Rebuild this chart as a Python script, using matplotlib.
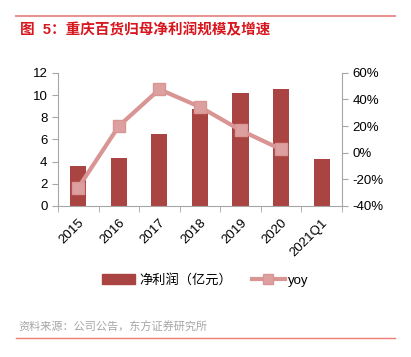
import numpy as np
import matplotlib.pyplot as plt
from matplotlib.lines import Line2D
from matplotlib.patches import Patch
from matplotlib.ticker import FuncFormatter

plt.rcParams['font.family'] = ['Liberation Sans', 'Noto Sans CJK SC']

categories = ['2015', '2016', '2017', '2018', '2019', '2020', '2021Q1']
profit = [3.6, 4.35, 6.45, 8.7, 10.2, 10.5, 4.2]   # 亿元
yoy = [-26.3, 20.0, 47.6, 34.4, 16.9, 2.5]           # %

bar_color = '#A94442'
line_color = '#D99594'
spine_color = '#A6A6A6'

fig = plt.figure(figsize=(4.11, 3.57), dpi=100)
ax = fig.add_axes([0.141, 0.423, 0.691, 0.373])
ax2 = ax.twinx()

x = np.arange(len(categories))
ax.bar(x, profit, width=0.4, color=bar_color, zorder=2)
ax2.plot(x[:len(yoy)], yoy, color=line_color, lw=3, marker='s', ms=9,
         markerfacecolor='#DDA0A0', markeredgecolor=line_color, zorder=3)

ax.set_xlim(-0.5, len(categories) - 0.5)
ax.set_ylim(0, 12)
ax.set_yticks(range(0, 13, 2))
ax2.set_ylim(-40, 60)
ax2.set_yticks(range(-40, 61, 20))
ax2.yaxis.set_major_formatter(FuncFormatter(lambda v, p: '%d%%' % v))

ax.set_xticks(x)
ax.set_xticklabels(categories, rotation=45, ha='right', rotation_mode='anchor', fontsize=9.5)
ax.set_xticks(np.arange(-0.5, len(categories)), minor=True)
ax.tick_params(axis='x', which='major', length=0, pad=8)
ax.tick_params(axis='x', which='minor', length=4, color=spine_color, direction='out')
ax.tick_params(axis='y', labelsize=9.5, length=4, color=spine_color)
ax2.tick_params(axis='y', labelsize=9.5, length=4, color=spine_color)

for a in (ax, ax2):
    a.spines['top'].set_visible(False)
    for s in ('left', 'right', 'bottom'):
        a.spines[s].set_color(spine_color)
ax.spines['right'].set_visible(False)
ax2.spines['left'].set_visible(False)
ax2.spines['bottom'].set_visible(False)

handles = [Patch(color=bar_color, label='净利润（亿元）'),
           Line2D([], [], color=line_color, lw=3, marker='s', ms=7,
                  markerfacecolor='#DDA0A0', markeredgecolor=line_color, label='yoy')]
fig.legend(handles=handles, loc='center', bbox_to_anchor=(0.5, 0.215), ncol=2,
           frameon=False, fontsize=9.5, handlelength=2.5, handleheight=0.7,
           columnspacing=1.5, handletextpad=0.3)

# header / footer
fig.add_artist(Line2D([16 / 411, 395 / 411], [1 - 16 / 357] * 2, color='#E89494', lw=1.5))
fig.text(20 / 411, 1 - 30 / 357, '图  5：重庆百货归母净利润规模及增速', color='#D7161E',
         fontsize=10.5, fontweight='bold', va='center', ha='left')
fig.text(18 / 411, 1 - 327 / 357, '资料来源：公司公告，东方证券研究所', color='#A6A6A6',
         fontsize=8, va='center', ha='left')
fig.add_artist(Line2D([16 / 411, 395 / 411], [1 - 338 / 357] * 2, color='#EE7B74', lw=1))

fig.savefig('out.png', dpi=100)
